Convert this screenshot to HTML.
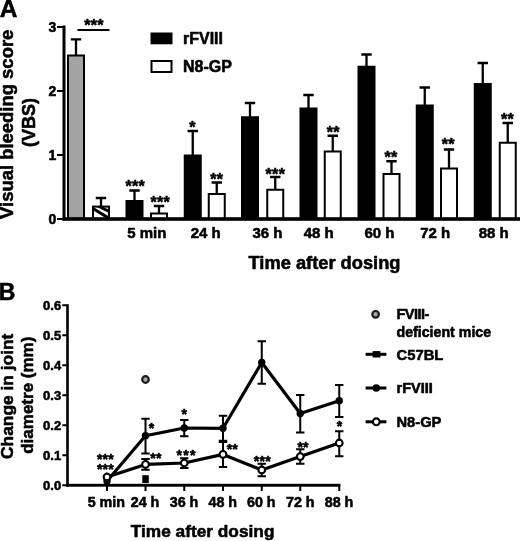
<!DOCTYPE html>
<html><head><meta charset="utf-8"><title>Figure</title>
<style>
html,body{margin:0;padding:0;background:#fff;}
body{width:520px;height:541px;overflow:hidden;font-family:"Liberation Sans",sans-serif;}
svg{display:block;filter:blur(0.35px);}
svg text{font-family:"Liberation Sans",sans-serif;font-weight:bold;fill:#000;stroke:#000;stroke-width:0.55px;stroke-linejoin:round;}
</style></head>
<body>
<svg width="520" height="541" viewBox="0 0 520 541">
<rect width="520" height="541" fill="#fff"/>
<g id="panelA">
<path d="M76.0 55.5 V39.4 M70.8 39.4 H81.2" stroke="#000" stroke-width="2.3" fill="none"/>
<path d="M101.0 206.6 V198.0 M95.8 198.0 H106.2" stroke="#000" stroke-width="2.3" fill="none"/>
<path d="M134.5 201.0 V190.5 M129.3 190.5 H139.7" stroke="#000" stroke-width="2.3" fill="none"/>
<path d="M159.0 213.5 V206.0 M153.8 206.0 H164.2" stroke="#000" stroke-width="2.3" fill="none"/>
<path d="M192.75 155.5 V131.0 M187.55 131.0 H197.95" stroke="#000" stroke-width="2.3" fill="none"/>
<path d="M216.75 194.0 V182.5 M211.55 182.5 H221.95" stroke="#000" stroke-width="2.3" fill="none"/>
<path d="M250.0 117.25 V103.0 M244.8 103.0 H255.2" stroke="#000" stroke-width="2.3" fill="none"/>
<path d="M275.25 189.75 V177.0 M270.05 177.0 H280.45" stroke="#000" stroke-width="2.3" fill="none"/>
<path d="M308.5 108.5 V95.0 M303.3 95.0 H313.7" stroke="#000" stroke-width="2.3" fill="none"/>
<path d="M332.75 151.5 V135.75 M327.55 135.75 H337.95" stroke="#000" stroke-width="2.3" fill="none"/>
<path d="M366.5 66.75 V54.5 M361.3 54.5 H371.7" stroke="#000" stroke-width="2.3" fill="none"/>
<path d="M391.5 174.0 V161.25 M386.3 161.25 H396.7" stroke="#000" stroke-width="2.3" fill="none"/>
<path d="M424.75 105.5 V87.5 M419.55 87.5 H429.95" stroke="#000" stroke-width="2.3" fill="none"/>
<path d="M449.0 168.5 V149.5 M443.8 149.5 H454.2" stroke="#000" stroke-width="2.3" fill="none"/>
<path d="M482.75 84.0 V63.0 M477.55 63.0 H487.95" stroke="#000" stroke-width="2.3" fill="none"/>
<path d="M507.75 142.75 V123.0 M502.55 123.0 H512.95" stroke="#000" stroke-width="2.3" fill="none"/>
<rect x="68.0" y="55.5" width="16.0" height="163.5" fill="#a3a3a3" stroke="#000" stroke-width="2"/>
<rect x="93.0" y="206.6" width="16.0" height="12.400000000000006" fill="#fff" stroke="#000" stroke-width="2"/>
<clipPath id="hc"><rect x="93.0" y="206.6" width="16.0" height="12.400000000000006"/></clipPath>
<g clip-path="url(#hc)" stroke="#000" stroke-width="3" fill="none"><path d="M91.0 207.2 L111.0 219.6"/><path d="M98.0 205.9 L112.0 212.9"/></g>
<rect x="125.5" y="200.0" width="18.0" height="19.0" fill="#000"/>
<rect x="151.0" y="213.5" width="16.0" height="5.5" fill="#fff" stroke="#000" stroke-width="2"/>
<rect x="183.75" y="154.5" width="18.0" height="64.5" fill="#000"/>
<rect x="208.75" y="194.0" width="16.0" height="25.0" fill="#fff" stroke="#000" stroke-width="2"/>
<rect x="241.0" y="116.25" width="18.0" height="102.75" fill="#000"/>
<rect x="267.25" y="189.75" width="16.0" height="29.25" fill="#fff" stroke="#000" stroke-width="2"/>
<rect x="299.5" y="107.5" width="18.0" height="111.5" fill="#000"/>
<rect x="324.75" y="151.5" width="16.0" height="67.5" fill="#fff" stroke="#000" stroke-width="2"/>
<rect x="357.5" y="65.75" width="18.0" height="153.25" fill="#000"/>
<rect x="383.5" y="174.0" width="16.0" height="45.0" fill="#fff" stroke="#000" stroke-width="2"/>
<rect x="415.75" y="104.5" width="18.0" height="114.5" fill="#000"/>
<rect x="441.0" y="168.5" width="16.0" height="50.5" fill="#fff" stroke="#000" stroke-width="2"/>
<rect x="473.75" y="83.0" width="18.0" height="136.0" fill="#000"/>
<rect x="499.75" y="142.75" width="16.0" height="76.25" fill="#fff" stroke="#000" stroke-width="2"/>
<rect x="62.5" y="25.5" width="3" height="195" fill="#000"/>
<rect x="62.5" y="217.2" width="457.5" height="3.6" fill="#000"/>
<rect x="57" y="26.0" width="6" height="2" fill="#000"/>
<text x="56.3" y="32.0" font-size="14" text-anchor="end" >3</text>
<rect x="57" y="90.0" width="6" height="2" fill="#000"/>
<text x="56.3" y="96.0" font-size="14" text-anchor="end" >2</text>
<rect x="57" y="154.0" width="6" height="2" fill="#000"/>
<text x="56.3" y="160.0" font-size="14" text-anchor="end" >1</text>
<rect x="57" y="218.0" width="6" height="2" fill="#000"/>
<text x="56.3" y="224.0" font-size="14" text-anchor="end" >0</text>
<rect x="77.5" y="29" width="32" height="2" fill="#000"/>
<text x="94.0" y="30.92" font-size="16" text-anchor="middle" letter-spacing="0.3">***</text>
<text x="135.3" y="191.92000000000002" font-size="16" text-anchor="middle" letter-spacing="0.3">***</text>
<text x="160.3" y="208.42000000000002" font-size="16" text-anchor="middle" letter-spacing="0.3">***</text>
<text x="192.5" y="132.92000000000002" font-size="16" text-anchor="middle" letter-spacing="0.3">*</text>
<text x="216.75" y="184.67000000000002" font-size="16" text-anchor="middle" letter-spacing="0.3">**</text>
<text x="275.4" y="179.67000000000002" font-size="16" text-anchor="middle" letter-spacing="0.3">***</text>
<text x="333.25" y="137.92000000000002" font-size="16" text-anchor="middle" letter-spacing="0.3">**</text>
<text x="391.0" y="162.92000000000002" font-size="16" text-anchor="middle" letter-spacing="0.3">**</text>
<text x="448.25" y="150.42000000000002" font-size="16" text-anchor="middle" letter-spacing="0.3">**</text>
<text x="507.5" y="124.67" font-size="16" text-anchor="middle" letter-spacing="0.3">**</text>
<text x="146.75" y="238.3" font-size="15" text-anchor="middle" >5 min</text>
<text x="205.75" y="238.3" font-size="15" text-anchor="middle" >24 h</text>
<text x="267.5" y="238.3" font-size="15" text-anchor="middle" >36 h</text>
<text x="318.75" y="238.3" font-size="15" text-anchor="middle" >48 h</text>
<text x="379.4" y="238.3" font-size="15" text-anchor="middle" >60 h</text>
<text x="435.25" y="238.3" font-size="15" text-anchor="middle" >72 h</text>
<text x="493.75" y="238.3" font-size="15" text-anchor="middle" >88 h</text>
<text x="324.5" y="269.2" font-size="18.3" text-anchor="middle" stroke-width="0.9">Time after dosing</text>
<rect x="150.5" y="32.5" width="22" height="11.8" fill="#000"/>
<rect x="151.5" y="61" width="20" height="11" fill="#fff" stroke="#000" stroke-width="2"/>
<text x="183.0" y="44.2" font-size="16" text-anchor="start" >rFVIII</text>
<text x="183.0" y="72.2" font-size="16" text-anchor="start" >N8-GP</text>
<text transform="translate(13.3,124.3) rotate(-90)" font-size="18.45" stroke-width="0.7" text-anchor="middle">Visual bleeding score</text>
<text transform="translate(35,122.6) rotate(-90)" font-size="18" stroke-width="0.9" text-anchor="middle">(VBS)</text>
<text x="-0.2" y="17.4" font-size="24.5" text-anchor="start" stroke-width="1.2">A</text>
</g>
<g id="panelB">
<rect x="66.2" y="304.2" width="2.6" height="182.5" fill="#000"/>
<rect x="66.2" y="483.8" width="274.2" height="2.9" fill="#000"/>
<rect x="62.3" y="484.25" width="4.5" height="2" fill="#000"/>
<text x="61.2" y="489.85" font-size="13" text-anchor="end" >0.0</text>
<rect x="62.3" y="454.25" width="4.5" height="2" fill="#000"/>
<text x="61.2" y="459.85" font-size="13" text-anchor="end" >0.1</text>
<rect x="62.3" y="424.25" width="4.5" height="2" fill="#000"/>
<text x="61.2" y="429.85" font-size="13" text-anchor="end" >0.2</text>
<rect x="62.3" y="394.25" width="4.5" height="2" fill="#000"/>
<text x="61.2" y="399.85" font-size="13" text-anchor="end" >0.3</text>
<rect x="62.3" y="364.25" width="4.5" height="2" fill="#000"/>
<text x="61.2" y="369.85" font-size="13" text-anchor="end" >0.4</text>
<rect x="62.3" y="334.25" width="4.5" height="2" fill="#000"/>
<text x="61.2" y="339.85" font-size="13" text-anchor="end" >0.5</text>
<rect x="62.3" y="304.25" width="4.5" height="2" fill="#000"/>
<text x="61.2" y="309.85" font-size="13" text-anchor="end" >0.6</text>
<rect x="106.0" y="485" width="2" height="6" fill="#000"/>
<rect x="144.5" y="485" width="2" height="6" fill="#000"/>
<rect x="183.25" y="485" width="2" height="6" fill="#000"/>
<rect x="222.0" y="485" width="2" height="6" fill="#000"/>
<rect x="260.75" y="485" width="2" height="6" fill="#000"/>
<rect x="299.25" y="485" width="2" height="6" fill="#000"/>
<rect x="338.25" y="485" width="2" height="6" fill="#000"/>
<path d="M145.5 418.8 V453.6 M141.3 418.8 H149.7 M141.3 453.6 H149.7" stroke="#000" stroke-width="2" fill="none"/>
<path d="M184.25 420.0 V436.2 M180.05 420.0 H188.45 M180.05 436.2 H188.45" stroke="#000" stroke-width="2" fill="none"/>
<path d="M223.0 415.75 V440.75 M218.8 415.75 H227.2 M218.8 440.75 H227.2" stroke="#000" stroke-width="2" fill="none"/>
<path d="M261.75 341.25 V383.75 M257.55 341.25 H265.95 M257.55 383.75 H265.95" stroke="#000" stroke-width="2" fill="none"/>
<path d="M300.25 395.0 V432.5 M296.05 395.0 H304.45 M296.05 432.5 H304.45" stroke="#000" stroke-width="2" fill="none"/>
<path d="M339.25 385.0 V417.0 M335.05 385.0 H343.45 M335.05 417.0 H343.45" stroke="#000" stroke-width="2" fill="none"/>
<polyline points="107.0,481.0 145.5,435.8 184.25,428.0 223.0,428.3 261.75,362.5 300.25,413.5 339.25,400.75" fill="none" stroke="#000" stroke-width="3.2" stroke-linejoin="round"/>
<circle cx="107.0" cy="481.0" r="3.7" fill="#000"/>
<circle cx="145.5" cy="435.8" r="3.7" fill="#000"/>
<circle cx="184.25" cy="428.0" r="3.7" fill="#000"/>
<circle cx="223.0" cy="428.3" r="3.7" fill="#000"/>
<circle cx="261.75" cy="362.5" r="3.7" fill="#000"/>
<circle cx="300.25" cy="413.5" r="3.7" fill="#000"/>
<circle cx="339.25" cy="400.75" r="3.7" fill="#000"/>
<path d="M145.5 459.1 V469.8 M141.3 459.1 H149.7 M141.3 469.8 H149.7" stroke="#000" stroke-width="2" fill="none"/>
<path d="M184.25 458.2 V468.0 M180.05 458.2 H188.45 M180.05 468.0 H188.45" stroke="#000" stroke-width="2" fill="none"/>
<path d="M223.0 442.0 V467.0 M218.8 442.0 H227.2 M218.8 467.0 H227.2" stroke="#000" stroke-width="2" fill="none"/>
<path d="M261.75 463.75 V476.25 M257.55 463.75 H265.95 M257.55 476.25 H265.95" stroke="#000" stroke-width="2" fill="none"/>
<path d="M300.25 449.25 V463.75 M296.05 449.25 H304.45 M296.05 463.75 H304.45" stroke="#000" stroke-width="2" fill="none"/>
<path d="M339.25 431.25 V456.25 M335.05 431.25 H343.45 M335.05 456.25 H343.45" stroke="#000" stroke-width="2" fill="none"/>
<polyline points="107.0,477.0 145.5,464.4 184.25,463.0 223.0,454.4 261.75,470.0 300.25,456.6 339.25,443.0" fill="none" stroke="#000" stroke-width="3.2" stroke-linejoin="round"/>
<circle cx="107.0" cy="477.0" r="3.35" fill="#fff" stroke="#000" stroke-width="2.1"/>
<circle cx="145.5" cy="464.4" r="3.35" fill="#fff" stroke="#000" stroke-width="2.1"/>
<circle cx="184.25" cy="463.0" r="3.35" fill="#fff" stroke="#000" stroke-width="2.1"/>
<circle cx="223.0" cy="454.4" r="3.35" fill="#fff" stroke="#000" stroke-width="2.1"/>
<circle cx="261.75" cy="470.0" r="3.35" fill="#fff" stroke="#000" stroke-width="2.1"/>
<circle cx="300.25" cy="456.6" r="3.35" fill="#fff" stroke="#000" stroke-width="2.1"/>
<circle cx="339.25" cy="443.0" r="3.35" fill="#fff" stroke="#000" stroke-width="2.1"/>
<circle cx="145.5" cy="379.5" r="3.3" fill="#a6a6a6" stroke="#1a1a1a" stroke-width="2.2"/>
<rect x="142.3" y="475.2" width="6.5" height="7.8" fill="#000"/>
<text x="105.39999999999999" y="463.88" font-size="14" text-anchor="middle" letter-spacing="0.2">***</text>
<text x="105.39999999999999" y="474.08000000000004" font-size="14" text-anchor="middle" letter-spacing="0.2">***</text>
<text x="151.4" y="433.48" font-size="14" text-anchor="middle" letter-spacing="0">*</text>
<text x="156.0" y="462.78000000000003" font-size="14" text-anchor="middle" letter-spacing="0.2">**</text>
<text x="184.3" y="418.78000000000003" font-size="14" text-anchor="middle" letter-spacing="0">*</text>
<text x="186.55" y="460.08000000000004" font-size="14" text-anchor="middle" letter-spacing="1.3">***</text>
<text x="232.29999999999998" y="454.48" font-size="14" text-anchor="middle" letter-spacing="0.2">**</text>
<text x="262.4" y="466.23" font-size="14" text-anchor="middle" letter-spacing="0.4">***</text>
<text x="303.1" y="451.98" font-size="14" text-anchor="middle" letter-spacing="0.2">**</text>
<text x="339.5" y="431.48" font-size="14" text-anchor="middle" letter-spacing="0">*</text>
<text x="106.3" y="507.1" font-size="14.3" text-anchor="middle" stroke-width="0.7">5 min</text>
<text x="145.0" y="507.1" font-size="14.3" text-anchor="middle" stroke-width="0.7">24 h</text>
<text x="184.0" y="507.1" font-size="14.3" text-anchor="middle" stroke-width="0.7">36 h</text>
<text x="222.8" y="507.1" font-size="14.3" text-anchor="middle" stroke-width="0.7">48 h</text>
<text x="261.3" y="507.1" font-size="14.3" text-anchor="middle" stroke-width="0.7">60 h</text>
<text x="300.3" y="507.1" font-size="14.3" text-anchor="middle" stroke-width="0.7">72 h</text>
<text x="339.0" y="507.1" font-size="14.3" text-anchor="middle" stroke-width="0.7">88 h</text>
<text x="202.6" y="536.9" font-size="17.3" text-anchor="middle" stroke-width="1">Time after dosing</text>
<text transform="translate(12.7,396.3) rotate(-90)" font-size="17.35" stroke-width="0.8" text-anchor="middle">Change in joint</text>
<text transform="translate(33.3,395.2) rotate(-90)" font-size="17" stroke-width="0.9" text-anchor="middle">diametre (mm)</text>
<text x="-1.2" y="299.7" font-size="23" text-anchor="start" stroke-width="1">B</text>
<circle cx="375.6" cy="314.3" r="3.3" fill="#a6a6a6" stroke="#1a1a1a" stroke-width="2.2"/>
<text x="396.5" y="319.3" font-size="14.5" text-anchor="start" letter-spacing="-0.5">FVIII-</text>
<text x="396.5" y="336.6" font-size="14.2" text-anchor="start" >deficient mice</text>
<rect x="365.6" y="352.8" width="20.8" height="3" fill="#000"/><rect x="372.6" y="351.1" width="7.8" height="6.4" fill="#000"/>
<text x="396.5" y="359.6" font-size="14.8" text-anchor="start" >C57BL</text>
<rect x="365.6" y="386.5" width="20.8" height="3" fill="#000"/><circle cx="376.3" cy="388" r="3.8" fill="#000"/>
<text x="396.5" y="393.3" font-size="14.5" text-anchor="start" >rFVIII</text>
<rect x="365.6" y="420.3" width="20.8" height="3" fill="#000"/><circle cx="376.3" cy="421.8" r="3.4" fill="#fff" stroke="#000" stroke-width="2.1"/>
<text x="396.5" y="427.0" font-size="14.7" text-anchor="start" >N8-GP</text>
</g>
</svg>
</body></html>
